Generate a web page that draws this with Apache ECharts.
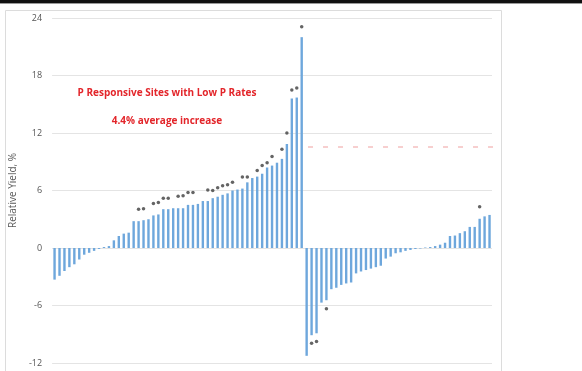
<!DOCTYPE html>
<html>
<head>
<meta charset="utf-8">
<script src="https://cdn.jsdelivr.net/npm/echarts@6/dist/echarts.min.js"></script>
<style>
  html, body { margin: 0; padding: 0; background: #fff; }
  #chart { width: 582px; height: 371px; }
</style>
</head>
<body>
<div id="chart"></div>
<script>
// Relative yield (%) for each site, sorted within the low-P-rate and high-P-rate groups
const relativeYield = [
  -3.3, -2.9, -2.4, -2.0, -1.7, -1.2, -0.7, -0.5, -0.3, -0.1,
   0.1,  0.2,  0.8,  1.25, 1.5,  1.6,  2.8,  2.8,  2.9,  3.0,
   3.4,  3.5,  4.05, 4.05, 4.15, 4.15, 4.15, 4.5,  4.5,  4.6,
   4.9,  4.9,  5.2,  5.35, 5.55, 5.7,  6.0,  6.1,  6.2,  6.85,
   7.3,  7.45, 7.75, 8.4,  8.6,  8.9,  9.3,  10.85, 15.6, 15.7,
   22.0,
  -11.25, -9.1, -8.9, -5.7, -5.45, -4.3, -4.15, -3.85, -3.7, -3.6,
  -2.65, -2.45, -2.3, -2.15, -2.0, -1.85, -1.1, -0.9, -0.55, -0.45,
  -0.3, -0.2, -0.1, -0.05, 0.05, 0.1, 0.2, 0.35, 0.55, 1.25,
   1.3,  1.55, 1.75, 2.2,  2.2,  3.05, 3.3,  3.45
];

// Sites marked as significant: [site index, marker height in %]
const significantMarks = [
  [17, 4.05], [18, 4.1], [20, 4.65], [21, 4.75], [22, 5.2], [23, 5.2],
  [25, 5.4], [26, 5.45], [27, 5.8], [28, 5.8], [31, 6.05], [32, 6.0],
  [33, 6.3], [34, 6.5], [35, 6.6], [36, 6.85], [38, 7.4], [39, 7.4],
  [41, 8.1], [42, 8.6], [43, 8.9], [44, 9.55], [46, 10.3], [47, 12.0],
  [48, 16.5], [49, 16.7], [50, 23.1],
  [51, -12.1], [52, -9.95], [53, -9.75], [55, -6.35], [86, 4.3]
];

const siteLabels = relativeYield.map((_, i) => 'Site ' + (i + 1));
const yTicks = { min: -12, max: 24, step: 6 };

const headline = 'P Responsive Sites with Low P Rates';
const subline = '4.4% average increase';
const yTitle = 'Relative Yield, %';

const chart = echarts.init(document.getElementById('chart'), null, { renderer: 'canvas' });

chart.setOption({
  backgroundColor: '#ffffff',
  animation: false,
  grid: { left: 48, right: 90, top: 18, bottom: 8, containLabel: false },
  xAxis: {
    type: 'category',
    data: siteLabels,
    boundaryGap: true,
    axisLine: { show: false },
    axisTick: { show: false },
    axisLabel: { show: false },
    splitLine: { show: false }
  },
  yAxis: {
    type: 'value',
    min: yTicks.min,
    max: yTicks.max,
    interval: yTicks.step,
    name: yTitle,
    nameLocation: 'middle',
    nameRotate: 90,
    nameGap: 26,
    nameTextStyle: { color: '#595959', fontSize: 10, fontFamily: 'Open Sans' },
    axisLine: { show: false },
    axisTick: { show: false },
    axisLabel: { color: '#555555', fontSize: 9, fontFamily: 'Open Sans', margin: 10 },
    splitLine: { lineStyle: { color: '#e4e4e4', width: 1 } }
  },
  series: [
    {
      type: 'bar',
      data: relativeYield,
      barWidth: 2.4,
      itemStyle: { color: '#6ea7dc' },
      silent: true
    },
    {
      type: 'scatter',
      data: significantMarks,
      symbol: 'circle',
      symbolSize: 3.5,
      itemStyle: { color: '#3d3d3d' },
      silent: true,
      z: 3
    }
  ],
  graphic: [
    { type: 'rect', left: 0, top: 0, shape: { width: 582, height: 3 }, style: { fill: '#111111' } },
    { type: 'rect', left: 0, top: 3, shape: { width: 582, height: 1 }, style: { fill: '#9a9a9a' } },
    { type: 'rect', left: 3, top: 8, shape: { width: 496, height: 370 }, style: { fill: 'none', stroke: '#dcdcdc', lineWidth: 1 }, z: -1 },
    {
      type: 'text',
      style: {
        text: headline, x: 167, y: 93, align: 'center', verticalAlign: 'middle',
        fill: '#e3262b', font: 'bold 10px "Open Sans"'
      }
    },
    {
      type: 'text',
      style: {
        text: subline, x: 167, y: 121, align: 'center', verticalAlign: 'middle',
        fill: '#e3262b', font: 'bold 10px "Open Sans"'
      }
    },
    {
      type: 'line',
      shape: { x1: 308, y1: 147, x2: 494, y2: 147 },
      style: { stroke: '#f5c0c0', lineWidth: 1.5, lineDash: [5, 10] }
    }
  ]
});
</script>
</body>
</html>
